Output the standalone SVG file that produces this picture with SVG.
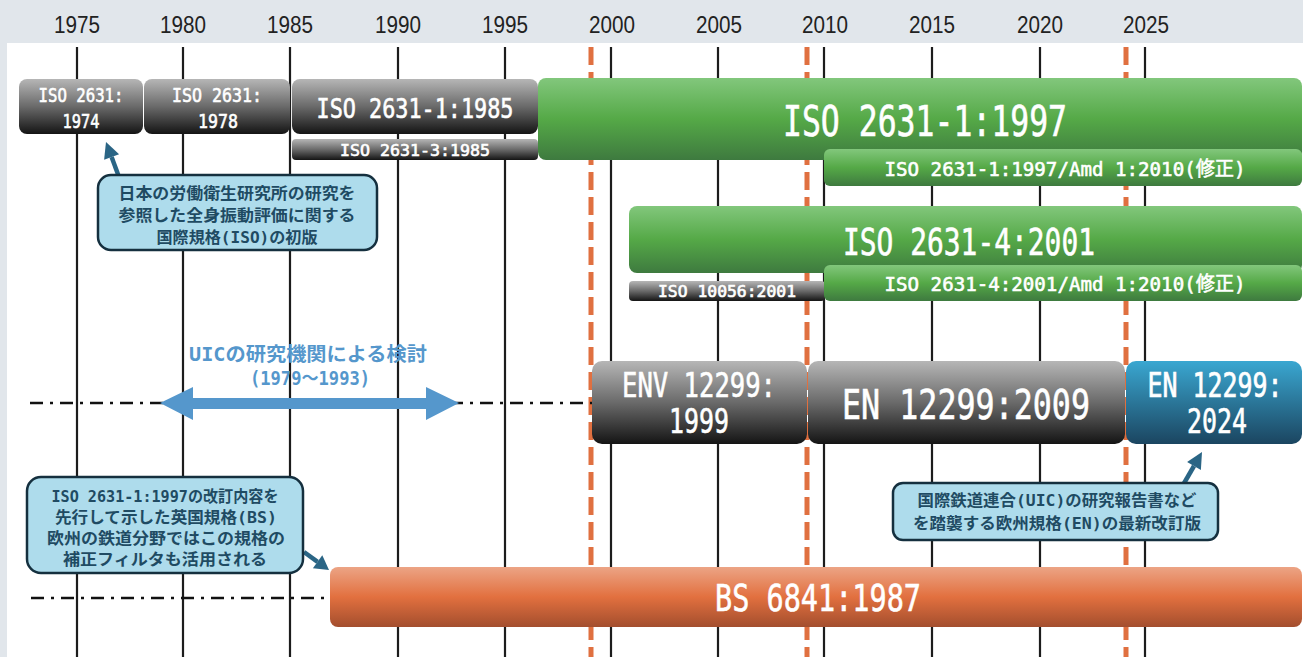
<svg xmlns="http://www.w3.org/2000/svg" width="1303" height="657" viewBox="0 0 1303 657">
<style>
.yr{font-family:"Liberation Sans",Arial,sans-serif;font-size:24px;fill:#222;text-anchor:middle}
.bx{font-family:"DejaVu Sans Mono","Noto Sans CJK JP",monospace;fill:#fff;stroke:#fff;stroke-width:0.6;text-anchor:middle}
.co{font-family:"DejaVu Sans Mono","Noto Sans CJK JP",sans-serif;font-weight:bold;font-size:16px;fill:#1f4b63;text-anchor:middle}
.uic{font-family:"DejaVu Sans Mono","Noto Sans CJK JP",sans-serif;font-weight:bold;font-size:19px;fill:#5597cc;text-anchor:middle}
.vl{stroke:#1c1c1c;stroke-width:2.2}
.ol{stroke:#e07040;stroke-width:5;stroke-dasharray:18 7}
.dd{stroke:#111;stroke-width:2.5;stroke-dasharray:13 7 3 7;fill:none}
.cb{fill:#aedcec;stroke:#15303f;stroke-width:2.5}
.ar{stroke:#2a6585;stroke-width:4.5;fill:none}
.ah{fill:#2a6585}
</style>
<defs>
<linearGradient id="gGray" x1="0" y1="0" x2="0" y2="1">
<stop offset="0" stop-color="#b6b6b6"/><stop offset="0.5" stop-color="#6a6a6a"/><stop offset="1" stop-color="#141414"/>
</linearGradient>
<linearGradient id="gGreen" x1="0" y1="0" x2="0" y2="1">
<stop offset="0" stop-color="#82c77c"/><stop offset="0.5" stop-color="#55a947"/><stop offset="1" stop-color="#3e7a3f"/>
</linearGradient>
<linearGradient id="gBlue" x1="0" y1="0" x2="0" y2="1">
<stop offset="0" stop-color="#3aa7d1"/><stop offset="1" stop-color="#1b4560"/>
</linearGradient>
<linearGradient id="gOrange" x1="0" y1="0" x2="0" y2="1">
<stop offset="0" stop-color="#eca485"/><stop offset="0.5" stop-color="#e2703f"/><stop offset="1" stop-color="#a34e2e"/>
</linearGradient>
</defs>

<g id="background">
<rect x="0" y="0" width="1303" height="657" fill="#e1e6eb"/>
<rect x="7" y="43" width="1296" height="614" fill="#ffffff"/>
</g>

<g id="axis">
<text class="yr" x="77" y="33" textLength="46" lengthAdjust="spacingAndGlyphs">1975</text>
<text class="yr" x="183" y="33" textLength="46" lengthAdjust="spacingAndGlyphs">1980</text>
<text class="yr" x="290" y="33" textLength="46" lengthAdjust="spacingAndGlyphs">1985</text>
<text class="yr" x="398" y="33" textLength="46" lengthAdjust="spacingAndGlyphs">1990</text>
<text class="yr" x="505" y="33" textLength="46" lengthAdjust="spacingAndGlyphs">1995</text>
<text class="yr" x="612" y="33" textLength="46" lengthAdjust="spacingAndGlyphs">2000</text>
<text class="yr" x="719" y="33" textLength="46" lengthAdjust="spacingAndGlyphs">2005</text>
<text class="yr" x="825" y="33" textLength="46" lengthAdjust="spacingAndGlyphs">2010</text>
<text class="yr" x="932" y="33" textLength="46" lengthAdjust="spacingAndGlyphs">2015</text>
<text class="yr" x="1040" y="33" textLength="46" lengthAdjust="spacingAndGlyphs">2020</text>
<text class="yr" x="1146" y="33" textLength="46" lengthAdjust="spacingAndGlyphs">2025</text>
<line class="vl" x1="77" y1="47" x2="77" y2="657"/>
<line class="vl" x1="183" y1="47" x2="183" y2="657"/>
<line class="vl" x1="290" y1="47" x2="290" y2="657"/>
<line class="vl" x1="398" y1="47" x2="398" y2="657"/>
<line class="vl" x1="505" y1="47" x2="505" y2="657"/>
<line class="vl" x1="611" y1="47" x2="611" y2="657"/>
<line class="vl" x1="718" y1="47" x2="718" y2="657"/>
<line class="vl" x1="824" y1="47" x2="824" y2="657"/>
<line class="vl" x1="932" y1="47" x2="932" y2="657"/>
<line class="vl" x1="1040" y1="47" x2="1040" y2="657"/>
<line class="vl" x1="1145" y1="47" x2="1145" y2="657"/>
<line class="ol" x1="591" y1="47" x2="591" y2="657"/>
<line class="ol" x1="807" y1="47" x2="807" y2="657"/>
<line class="ol" x1="1126" y1="47" x2="1126" y2="657"/>
<path class="dd" d="M30,403 H592"/>
<path class="dd" d="M31,598 H332"/>
</g>

<g id="connectors">
<line class="ar" x1="119" y1="177" x2="111.6" y2="157"/>
<polygon class="ah" points="106,142 119.1,154.2 104.1,159.8"/>
<line class="ar" x1="1183" y1="485" x2="1194" y2="466"/>
<polygon class="ah" points="1202,452 1200.9,469.9 1187.1,461.9"/>
<line class="ar" x1="304" y1="552" x2="317.6" y2="561.8"/>
<polygon class="ah" points="329,570 312.9,568.3 322.3,555.3"/>
</g>

<g id="iso2631-1974">
<rect x="19" y="79" width="124" height="55" rx="8" fill="url(#gGray)"/>
<text class="bx" x="81" y="102" font-size="20" textLength="85" lengthAdjust="spacingAndGlyphs">ISO 2631:</text>
<text class="bx" x="81" y="128" font-size="20" textLength="37" lengthAdjust="spacingAndGlyphs">1974</text>
</g>
<g id="iso2631-1978">
<rect x="144" y="79" width="146" height="55" rx="8" fill="url(#gGray)"/>
<text class="bx" x="217" y="102" font-size="20" textLength="90" lengthAdjust="spacingAndGlyphs">ISO 2631:</text>
<text class="bx" x="218" y="128" font-size="20" textLength="40" lengthAdjust="spacingAndGlyphs">1978</text>
</g>
<g id="iso2631-1-1985">
<rect x="292" y="79" width="246" height="55" rx="8" fill="url(#gGray)"/>
<text class="bx" x="415" y="118" font-size="27" textLength="197" lengthAdjust="spacingAndGlyphs">ISO 2631-1:1985</text>
</g>
<g id="iso2631-3-1985">
<rect x="292" y="139" width="246" height="21" rx="4" fill="url(#gGray)"/>
<text class="bx" x="415" y="156" font-size="16" textLength="150" lengthAdjust="spacingAndGlyphs">ISO 2631-3:1985</text>
</g>
<g id="iso2631-1-1997">
<rect x="538" y="78" width="764" height="82" rx="8" fill="url(#gGreen)"/>
<text class="bx" x="925" y="136" font-size="42" textLength="284" lengthAdjust="spacingAndGlyphs">ISO 2631-1:1997</text>
</g>
<g id="iso2631-1-amd">
<rect x="824" y="149" width="478" height="37" rx="6" fill="url(#gGreen)"/>
<text class="bx" x="1065" y="176" font-size="20" textLength="361" lengthAdjust="spacingAndGlyphs">ISO 2631-1:1997/Amd 1:2010(修正)</text>
</g>
<g id="iso2631-4-2001">
<rect x="629" y="206" width="673" height="67" rx="8" fill="url(#gGreen)"/>
<text class="bx" x="969" y="255" font-size="37" textLength="252" lengthAdjust="spacingAndGlyphs">ISO 2631-4:2001</text>
</g>
<g id="iso10056-2001">
<rect x="629" y="281" width="196" height="20" rx="4" fill="url(#gGray)"/>
<text class="bx" x="727" y="297" font-size="15" textLength="138" lengthAdjust="spacingAndGlyphs">ISO 10056:2001</text>
</g>
<g id="iso2631-4-amd">
<rect x="824" y="265" width="478" height="36" rx="6" fill="url(#gGreen)"/>
<text class="bx" x="1065" y="291" font-size="20" textLength="361" lengthAdjust="spacingAndGlyphs">ISO 2631-4:2001/Amd 1:2010(修正)</text>
</g>

<g id="callout-iso">
<rect class="cb" x="98" y="175" width="279" height="75" rx="13"/>
<text class="co" x="237" y="199" textLength="237" lengthAdjust="spacingAndGlyphs">日本の労働衛生研究所の研究を</text>
<text class="co" x="237" y="221" textLength="237" lengthAdjust="spacingAndGlyphs">参照した全身振動評価に関する</text>
<text class="co" x="237" y="243" textLength="161" lengthAdjust="spacingAndGlyphs">国際規格(ISO)の初版</text>
</g>

<g id="uic-study">
<text class="uic" x="308" y="361" textLength="238" lengthAdjust="spacingAndGlyphs">UICの研究機関による検討</text>
<text class="uic" x="310" y="385" textLength="120" lengthAdjust="spacingAndGlyphs">(1979〜1993)</text>
<polygon points="160,403 193,387 193,398 426,398 426,387 459,403 426,420 426,409 193,409 193,420" fill="#5597cc"/>
</g>

<g id="env12299-1999">
<rect x="592" y="361" width="215" height="83" rx="10" fill="url(#gGray)"/>
<text class="bx" x="699" y="397" font-size="33" textLength="154" lengthAdjust="spacingAndGlyphs">ENV 12299:</text>
<text class="bx" x="699" y="433" font-size="33" textLength="60" lengthAdjust="spacingAndGlyphs">1999</text>
</g>
<g id="en12299-2009">
<rect x="808" y="361" width="317" height="83" rx="10" fill="url(#gGray)"/>
<text class="bx" x="966" y="419" font-size="41" textLength="248" lengthAdjust="spacingAndGlyphs">EN 12299:2009</text>
</g>
<g id="en12299-2024">
<rect x="1126" y="361" width="176" height="83" rx="10" fill="url(#gBlue)"/>
<text class="bx" transform="translate(1215,397) scale(1,1.18)" x="0" y="0" font-size="28" textLength="135" lengthAdjust="spacingAndGlyphs">EN 12299:</text>
<text class="bx" x="1217" y="433" font-size="33" textLength="60" lengthAdjust="spacingAndGlyphs">2024</text>
</g>

<g id="callout-en">
<rect class="cb" x="893" y="483" width="325" height="57" rx="10"/>
<text class="co" x="1057" y="506" textLength="279" lengthAdjust="spacingAndGlyphs">国際鉄道連合(UIC)の研究報告書など</text>
<text class="co" x="1057" y="529" textLength="288" lengthAdjust="spacingAndGlyphs">を踏襲する欧州規格(EN)の最新改訂版</text>
</g>

<g id="callout-bs">
<rect class="cb" x="27" y="477" width="276" height="96" rx="14"/>
<text class="co" x="165" y="502" textLength="227" lengthAdjust="spacingAndGlyphs">ISO 2631-1:1997の改訂内容を</text>
<text class="co" x="166" y="523" textLength="222" lengthAdjust="spacingAndGlyphs">先行して示した英国規格(BS)</text>
<text class="co" x="166" y="544" textLength="238" lengthAdjust="spacingAndGlyphs">欧州の鉄道分野ではこの規格の</text>
<text class="co" x="165" y="565" textLength="204" lengthAdjust="spacingAndGlyphs">補正フィルタも活用される</text>
</g>

<g id="bs6841-1987">
<rect x="330" y="567" width="972" height="60" rx="8" fill="url(#gOrange)"/>
<text class="bx" x="818" y="611" font-size="38" textLength="206" lengthAdjust="spacingAndGlyphs">BS 6841:1987</text>
</g>
</svg>
